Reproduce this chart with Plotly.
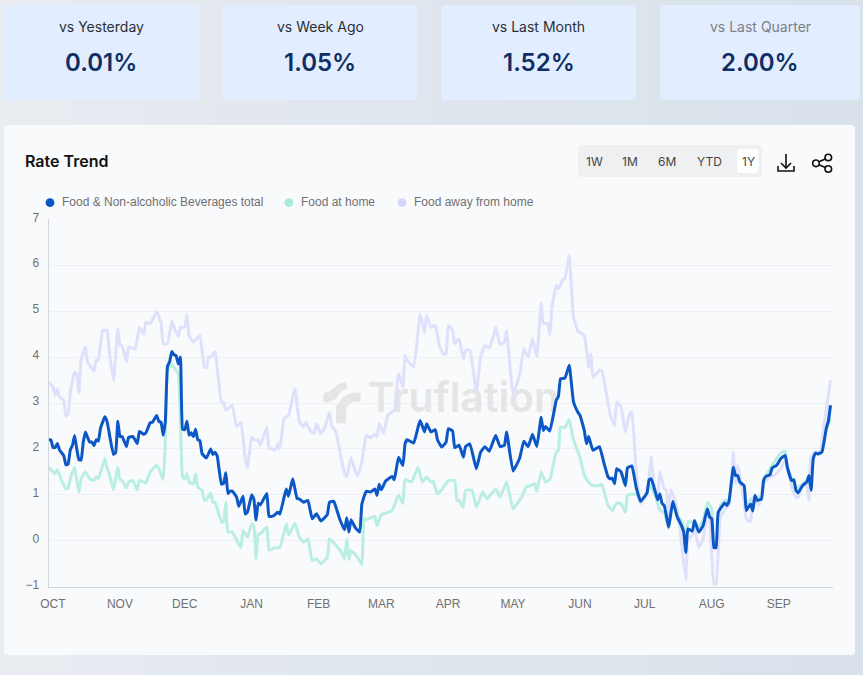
import pandas as pd
import plotly.graph_objects as go

START = pd.Timestamp("2023-09-30")
W, H = 863, 675

# (days since START, rate %)
total_points = [(0,2.2),(1,2.2),(2,2.03),(3,2.03),(4,2.12),(5,1.98),(7,1.85),(8,1.65),(9,1.67),(10,1.98),(11,2.08),(12,2.29),(13,2.0),(14,1.76),(15,1.76),(16,2.15),(17,2.37),(18,2.25),(19,2.15),(20,2.15),(21,2.07),(22,2.2),(23,2.17),(24,2.45),(26,2.7),(27,2.6),(28,2.35),(30,1.88),(31,1.92),(32,2.6),(33,2.27),(34,2.27),(36,2.05),(37,2.25),(39,2.27),(41,2.12),(42,2.38),(44,2.32),(45,2.35),(47,2.57),(48,2.58),(50,2.73),(51,2.6),(52,2.58),(53,2.3),(54,2.6),(55,3.8),(56,3.9),(57,4.12),(58,4.05),(59,4.03),(60,3.85),(61,4.0),(62,2.43),(63,2.42),(64,2.6),(65,2.3),(66,2.35),(67,2.27),(68,2.43),(69,2.2),(70,2.18),(71,1.9),(73,1.8),(75,2.0),(76,1.88),(77,1.93),(78,1.85),(80,1.23),(81,1.25),(82,1.48),(83,1.03),(84,1.08),(85,1.08),(87,0.95),(88,0.75),(90,0.97),(91,0.58),(92,0.62),(94,1.0),(95,0.9),(96,0.45),(97,0.82),(98,0.78),(101,1.03),(102,0.53),(104,0.54),(106,0.62),(107,0.58),(109,0.95),(110,1.13),(111,0.97),(113,1.35),(115,0.92),
(116,0.91),(118,0.84),(120,0.88),(122,0.48),(124,0.59),(126,0.43),(129,0.57),(130,0.84),(132,0.86),(133,0.73),(135,0.44),(137,0.24),(138,0.5),(139,0.19),(140,0.46),(142,0.28),(144,0.19),(145,0.8),(147,1.08),(149,1.06),(151,1.13),(152,0.99),(153,1.23),(154,1.11),(156,1.3),(159,1.4),(160,1.33),(162,1.82),(164,1.64),(165,2.11),(166,2.2),(169,2.13),(171,2.47),(172,2.62),(174,2.37),(175,2.55),(177,2.37),(179,2.42),(180,2.2),(182,2.04),(184,2.15),(185,2.44),(187,2.39),(188,2.03),(190,2.08),(192,1.82),(193,2.05),(195,2.11),(198,1.57),(200,1.93),(202,2.05),(204,1.95),(206,2.19),(207,2.29),(209,2.05),(211,2.08),(212,2.37),(215,1.52),(218,1.79),(220,2.17),(222,2.05),(224,2.32),(226,2.05),(228,2.69),(229,2.4),(230,2.49),(232,2.39),(235,3.06),(236,3.14),
(237,3.53),(239,3.54),(241,3.82),(243,3.02),(245,2.8),(246,2.73),(248,2.4),(249,2.11),(250,2.27),(252,1.97),(255,2.05),(257,1.71),(259,1.39),(260,1.35),(261,1.36),(262,1.24),(263,1.57),(265,1.5),(267,1.2),(268,1.59),(270,1.63),(272,1.17),(274,0.86),(277,1.04),(278,1.33),(279,1.35),(281,1.04),(282,0.89),(283,1.02),(284,0.81),(285,0.77),(287,0.3),(289,0.86),(291,0.52),(293,0.33),(294,0.19),(295,-0.25),(296,0.26),(298,0.21),(299,0.44),(301,0.19),(303,0.33),(305,0.7),(306,0.52),(307,0.48),(308,-0.15),(309,-0.15),(310,0.62),(313,0.82),(314,0.77),(315,0.86),(317,1.6),(318,1.42),(319,1.42),(320,1.28),(322,1.2),(323,0.66),(325,0.8),(326,0.65),(327,0.99),(328,0.88),(330,0.91),(331,1.31),(332,1.4),(334,1.44),(335,1.59),(337,1.64),(339,1.79),(341,1.86),(342,1.6),(344,1.31),(345,1.33),(346,1.1),(347,1.04),(349,1.2),(351,1.28),(352,1.42),(353,1.1),(354,1.79),(355,1.91),(356,1.89),(358,1.93),(360,2.44),(361,2.61),(362,2.95)]

home_points = [(0,1.6),(2,1.5),(3,1.46),(4,1.55),(6,1.31),(8,1.13),(9,1.15),(10,1.35),(12,1.6),(13,1.31),(14,1.06),(15,1.35),(17,1.5),(19,1.35),(21,1.31),(22,1.39),(23,1.35),(26,1.79),(27,1.6),(28,1.46),(30,1.11),(32,1.6),(33,1.33),(34,1.31),(36,1.15),(37,1.28),(39,1.31),(41,1.11),(42,1.31),(45,1.26),(47,1.5),(50,1.64),(51,1.57),(53,1.33),(54,2.19),(55,3.71),(57,3.84),(58,3.78),(60,3.64),(61,2.55),(62,1.39),(63,1.35),(64,1.46),(65,1.28),(67,1.24),(68,1.46),(69,1.17),(71,1.1),(72,0.88),(73,0.89),(75,1.04),(76,0.84),(77,0.84),(80,0.41),(81,0.41),(82,0.84),(83,0.19),(85,0.19),(89,-0.15),(90,0.23),(92,0.08),(94,0.37),(95,0.33),(96,-0.39),(97,0.15),(98,0.15),(101,0.3),(102,-0.2),(105,-0.15),(107,-0.15),(110,0.37),(111,0.12),(114,0.38),(116,0.08),(118,-0.03),(120,0.04),(122,-0.43),(124,-0.39),(126,-0.5),(129,-0.36),(130,0.04),
(131,0.01),(133,-0.1),(135,-0.21),(137,-0.39),(138,0.04),(139,-0.41),(140,-0.21),(143,-0.36),(145,-0.52),(146,0.48),(147,0.46),(149,0.5),(151,0.53),(152,0.33),(154,0.57),(156,0.6),(159,0.66),(162,0.99),(164,0.81),(165,1.33),(168,1.28),(171,1.6),(173,1.28),(175,1.39),(177,1.28),(178,1.3),(180,1.02),(182,1.11),(185,1.31),(188,1.31),(189,0.88),(190,0.88),(192,0.73),(193,1.1),(196,1.1),(198,0.73),(201,1.06),(203,0.91),(207,1.13),(209,0.95),(212,1.28),(215,0.7),(219,0.95),(221,1.17),(223,1.2),(225,1.24),(226,1.08),(228,1.5),(230,1.28),(232,1.33),(235,1.93),(236,1.97),(237,2.48),(239,2.46),(241,2.64),(243,2.19),(246,1.82),(248,1.42),(250,1.28),(252,1.2),(255,1.2),
(256,1.23),(257,1.1),(259,0.77),(261,0.66),(263,0.82),(265,0.81),(267,0.62),(268,0.99),(270,1.02),(273,0.99),(274,0.81),(277,1.04),(278,1.24),(281,0.95),(283,0.66),(285,0.62),(287,0.26),(289,0.81),(291,0.55),(293,0.44),(295,0.08),(296,0.41),(298,0.41),(301,0.3),(303,0.44),(305,0.84),(307,0.7),(308,-0.07),(309,-0.07),(311,0.77),(313,0.88),(315,0.89),(317,1.53),(319,1.31),(321,1.18),(323,0.77),(325,0.91),(328,0.94),(330,0.99),(331,1.35),(335,1.64),(337,1.79),(339,1.91),(341,1.95),(342,1.64),(344,1.35),(346,1.13),(349,1.24),(351,1.31),(352,1.13),(353,1.79),(355,1.93),(358,1.93),(359,2.37),(361,2.55),(362,2.66)]

away_points = [(0,3.45),(2,3.35),(3,3.17),(4,3.31),(5,3.13),(7,3.06),(8,2.71),(9,2.76),(10,3.24),(12,3.67),(13,3.64),(14,3.22),(15,3.93),(17,4.23),(18,3.89),(21,3.7),(22,3.93),(23,3.93),(25,4.58),(27,4.58),(28,4.15),(30,3.49),(32,4.62),(33,4.25),(34,4.25),(36,3.89),(37,4.22),(40,4.18),(42,4.64),(44,4.5),(45,4.76),(47,4.73),(50,4.98),(52,4.76),(53,4.29),(55,4.29),(57,4.78),(58,4.65),(60,4.45),(61,4.65),(63,4.65),(64,4.93),(65,4.47),(67,4.33),(70,4.47),(72,3.78),(73,3.77),(74,4.0),(75,4.0),(77,4.11),(78,3.78),(80,3.02),(81,3.02),(82,2.84),(85,2.95),(87,2.48),(89,2.58),(91,1.79),(92,1.59),(94,2.26),(95,2.2),(97,2.19),(98,2.08),(101,2.48),(102,2.03),(105,1.98),(106,2.11),(107,2.0),(109,2.66),(111,2.73),(114,3.31),
(116,2.61),(118,2.48),(119,2.58),(121,2.4),(123,2.34),(124,2.55),(126,2.33),(128,2.48),(130,2.8),(131,2.51),(133,2.37),(135,1.89),(137,1.46),(138,1.39),(140,1.81),(142,1.5),(143,1.41),(145,1.71),(147,2.29),(149,2.24),(151,2.32),(152,2.27),(153,2.56),(155,2.34),(157,2.73),(160,2.84),(162,3.64),(164,3.35),(165,4.04),(166,3.93),(169,3.78),(172,4.94),(174,4.54),(175,4.91),(177,4.65),(179,4.69),(181,4.22),(183,4.06),(184,4.07),(185,4.69),(187,4.58),(188,4.29),(190,4.4),(192,3.96),(193,4.15),(195,4.15),(198,3.24),(200,4.0),(202,4.25),(204,4.2),(206,4.47),(207,4.65),(209,4.27),(211,4.33),(212,4.58),(215,3.2),(218,3.6),(220,4.18),(222,4.0),(224,4.4),(226,4.0),(228,5.18),(229,4.73),(231,4.73),(232,4.49),(233,5.09),(235,5.56),(236,5.49),(238,5.68),(239,5.71),(241,6.21),(242,5.52),(243,4.87),(245,4.57),(248,4.47),(250,3.78),(251,4.07),(252,3.56),(255,3.71),
(256,3.71),(258,3.27),(260,2.73),(262,2.51),(263,3.02),(265,2.91),(267,2.37),(269,2.77),(270,2.8),(272,1.53),(274,0.81),(277,1.02),(279,1.82),(280,1.31),(282,0.91),(283,1.5),(285,1.13),(286,1.1),(287,0.44),(288,1.11),(290,0.88),(292,0.37),(293,-0.07),(295,-0.85),(296,0.04),(298,0.12),(299,0.3),(301,-0.14),(303,0.04),(305,0.66),(306,0.48),(308,-0.94),(309,-0.94),(311,0.52),(313,0.66),(314,0.73),(315,0.77),(317,1.93),(318,1.24),(319,1.64),(321,1.17),(323,0.48),(325,0.41),(326,0.95),(329,0.77),(331,1.24),(334,1.39),(336,1.42),(339,1.57),(341,1.75),(342,1.57),(344,1.17),(346,0.94),(347,0.94),(349,1.24),(351,1.2),(352,0.89),(353,1.82),(355,1.93),(357,1.86),(359,2.55),(360,2.84),(362,3.49)]

series_names = ["Food & Non-alcoholic Beverages total", "Food at home", "Food away from home"]
series_colors = ["#0b57c5", "#b9eee1", "#dfe0fb"]
legend_colors = ["#0b57c5", "#a9ecdc", "#d4d6fa"]
month_labels = ["OCT","NOV","DEC","JAN","FEB","MAR","APR","MAY","JUN","JUL","AUG","SEP"]
month_starts = ["2023-10-01","2023-11-01","2023-12-01","2024-01-01","2024-02-01","2024-03-01","2024-04-01","2024-05-01","2024-06-01","2024-07-01","2024-08-01","2024-09-01"]
card_labels = ["vs Yesterday","vs Week Ago","vs Last Month","vs Last Quarter"]
card_values = ["0.01%","1.05%","1.52%","2.00%"]
range_buttons = ["1W","1M","6M","YTD","1Y"]

FONT = "Inter"
CHART_FONT = "Liberation Sans"
px = lambda x: x / W
py = lambda y: 1 - y / H

def to_xy(points):
    return ([START + pd.Timedelta(days=d) for d, _ in points], [v for _, v in points])

def rrect(x0, y0, x1, y1, r, color):
    path = (f"M {px(x0+r)} {py(y0)} L {px(x1-r)} {py(y0)} Q {px(x1)} {py(y0)} {px(x1)} {py(y0+r)} "
            f"L {px(x1)} {py(y1-r)} Q {px(x1)} {py(y1)} {px(x1-r)} {py(y1)} "
            f"L {px(x0+r)} {py(y1)} Q {px(x0)} {py(y1)} {px(x0)} {py(y1-r)} "
            f"L {px(x0)} {py(y0+r)} Q {px(x0)} {py(y0)} {px(x0+r)} {py(y0)} Z")
    return dict(type="path", xref="paper", yref="paper", path=path, fillcolor=color,
                line=dict(width=0), layer="below")

def poly(pts, fill=None, stroke=None, width=0, close=True, layer="above"):
    p = "M " + " L ".join(f"{px(x)} {py(y)}" for x, y in pts) + (" Z" if close else "")
    return dict(type="path", xref="paper", yref="paper", path=p, fillcolor=fill or "rgba(0,0,0,0)",
                line=dict(color=stroke or "rgba(0,0,0,0)", width=width), layer=layer)

def circle(cx, cy, r, stroke=None, width=0, fill=None, layer="above"):
    return dict(type="circle", xref="paper", yref="paper", x0=px(cx-r), x1=px(cx+r), y0=py(cy+r), y1=py(cy-r),
                line=dict(color=stroke or "rgba(0,0,0,0)", width=width), fillcolor=fill or "rgba(0,0,0,0)", layer=layer)

fig = go.Figure()
fig.add_trace(go.Scatter(x=[START + pd.Timedelta(days=192)], y=[3.03], mode="text", text=["Truflation"],
                         textfont=dict(family=FONT, size=41, color="#e5e5e5", weight=600),
                         showlegend=False, hoverinfo="skip", textposition="middle center"))

for pts, name, color, width in [(home_points, series_names[1], series_colors[1], 3),
                                (away_points, series_names[2], series_colors[2], 3),
                                (total_points, series_names[0], series_colors[0], 3)]:
    xs, ys = to_xy(pts)
    fig.add_trace(go.Scatter(x=xs, y=ys, mode="lines", name=name, showlegend=False,
                             line=dict(color=color, width=width, shape="spline", smoothing=0.35)))

# soft left-to-right page tint
shapes = []
tint = ["#e9edf2", "#e7ebf1", "#e5e9f0", "#e3e8ef", "#e1e7ee", "#dfe6ed", "#dee5ed", "#dde4ec", "#dce4ec", "#dbe3eb", "#dae3eb", "#d9e2ea"]
for i, c in enumerate(tint):
    shapes.append(dict(type="rect", xref="paper", yref="paper", x0=i/12, x1=(i+1)/12, y0=0, y1=1,
                       fillcolor=c, line=dict(width=0), layer="below"))

shapes.append(rrect(4, 125, 855, 655, 4, "#f9fafc"))
card_x = [(3, 199), (223, 417), (441, 636), (660, 860)]
annots = []
for (x0, x1), lab, val, c in zip(card_x, card_labels, card_values, ["#2b2f36", "#2b2f36", "#2b2f36", "#7d8085"]):
    shapes.append(rrect(x0, 5, x1, 100, 4, "#e2eeff"))
    annots.append(dict(x=px((x0+x1)/2), y=py(26.3), text=lab, font=dict(size=14, color=c, family=FONT)))
    annots.append(dict(x=px((x0+x1)/2), y=py(62), text=val, font=dict(size=24, color="#0f2f63", family=FONT, weight=600)))

annots.append(dict(x=px(22.5), y=py(161), xanchor="left", text="Rate Trend", font=dict(size=16, color="#111111", family=FONT, weight=600)))

shapes.append(rrect(578, 145, 762, 177, 4, "#eff0f2"))
shapes.append(rrect(737, 149, 758.5, 173, 3, "#ffffff"))
for lab, x in zip(range_buttons, [594, 630, 667, 709, 748]):
    annots.append(dict(x=px(x), y=py(161), text=lab, font=dict(size=12, color="#444444", family=FONT)))

# legend
for name, color, dot_x, text_x in zip(series_names, legend_colors, [50, 289, 402], [60, 299, 412]):
    shapes.append(circle(dot_x, 202.7, 4.4, fill=color))
    annots.append(dict(x=px(text_x), y=py(201.8), xanchor="left", text=name, font=dict(size=12, color="#707070", family=CHART_FONT)))

# download icon
shapes.append(poly([(786, 154), (786, 168)], stroke="#111111", width=1.6, close=False))
shapes.append(poly([(781, 163), (786, 168), (791, 163)], stroke="#111111", width=1.6, close=False))
shapes.append(poly([(778, 166), (778, 171), (794, 171), (794, 166)], stroke="#111111", width=1.6, close=False))
# share icon
shapes.append(circle(828.3, 157.5, 3.3, "#111111", 1.6))
shapes.append(circle(816, 163.3, 3.3, "#111111", 1.6))
shapes.append(circle(828.3, 169, 3.3, "#111111", 1.6))
shapes.append(poly([(819, 161.8), (825.3, 159)], stroke="#111111", width=1.6, close=False))
shapes.append(poly([(819, 164.8), (825.3, 167.5)], stroke="#111111", width=1.6, close=False))

# watermark logo
shapes.append(poly([(323.3,393.3),(330.7,390.7),(338.3,384),(346.7,381.7),(346.7,389.3),(341.7,390.7),(336.7,398.3),(330,402),(323.3,402)], fill="#e5e5e5", layer="below"))
shapes.append(poly([(336,423.3),(346,423.3),(346,411.7),(347.3,406),(353.3,401.7),(360.7,401.7),(360.7,392.7),(351.7,392.7),(343.3,396.7),(336,406.7)], fill="#e5e5e5", layer="below"))

for a in annots:
    a.update(xref="paper", yref="paper", showarrow=False, xanchor=a.get("xanchor", "center"), yanchor="middle")

fig.update_layout(
    width=W, height=H, margin=dict(l=0, r=0, t=0, b=0, autoexpand=False),
    paper_bgcolor="#dfe6ee", plot_bgcolor="rgba(0,0,0,0)",
    font=dict(family=CHART_FONT, size=12, color="#707070"),
    shapes=shapes, annotations=annots, showlegend=False,
    xaxis=dict(domain=[px(48.7), px(832.7)], type="date", range=[START, START + pd.Timedelta(days=363)],
               tickvals=[pd.Timestamp(m) + pd.Timedelta(hours=12) for m in month_starts], ticktext=month_labels,
               showgrid=False, zeroline=False, showline=True, linecolor="#d3d6dc", linewidth=1, ticks="",
               tickfont=dict(size=12, color="#707070", family=CHART_FONT), ticklabelstandoff=6, ticklabelshift=1),
    yaxis=dict(domain=[py(586.7), py(219.3)], range=[-1, 7], tickvals=list(range(-1, 8)),
               showgrid=True, gridcolor="#eef0f4", gridwidth=1, zeroline=False, showline=True, linecolor="#d3d6dc",
               linewidth=1, ticks="", tickfont=dict(size=12, color="#707070", family=CHART_FONT),
               ticklabelstandoff=6, ticklabelshift=-2),
    hovermode="x unified",
)

fig.write_html("out.html", config=dict(displayModeBar=False),
               post_script="document.body.style.margin='0';document.documentElement.style.overflow='hidden';")
